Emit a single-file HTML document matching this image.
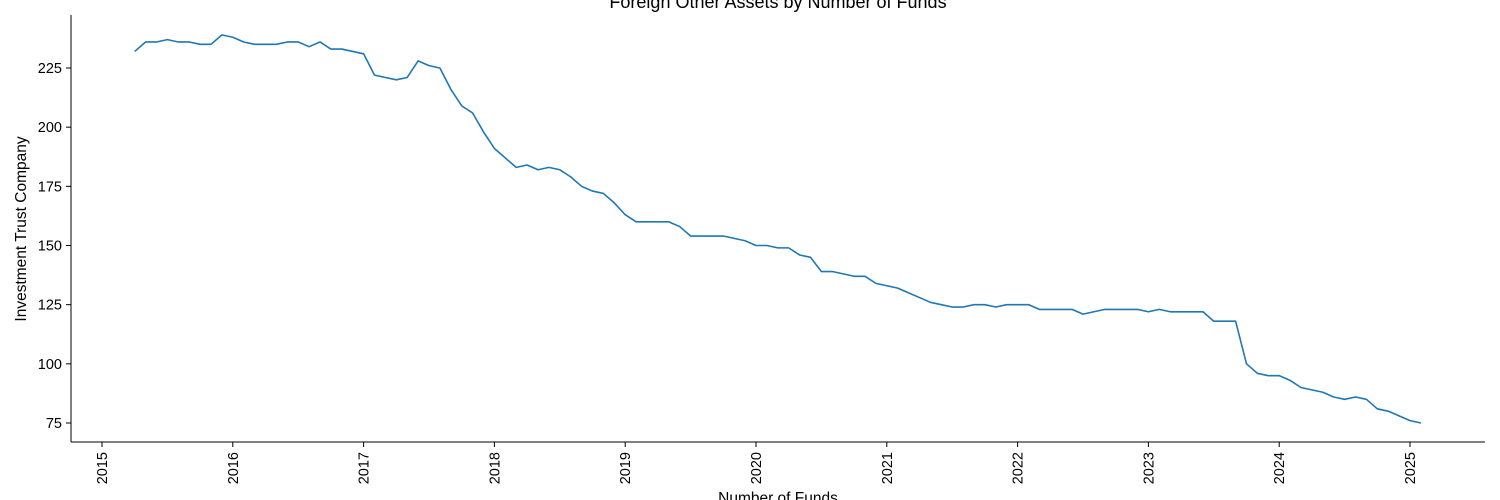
<!DOCTYPE html>
<html><head><meta charset="utf-8"><style>
html,body{margin:0;padding:0;background:#fff}
svg{display:block;font-family:"Liberation Sans","DejaVu Sans",sans-serif}
</style></head><body>
<svg id="chart" width="1500" height="500" viewBox="0 0 1500 500">
<text x="778" y="8" font-size="18" text-anchor="middle">Foreign Other Assets by Number of Funds</text>
<g id="yticks"></g>
<g id="xticks"></g>
<line x1="71" y1="15" x2="71" y2="442" stroke="#000" stroke-width="1"/>
<line x1="71" y1="442" x2="1485" y2="442" stroke="#000" stroke-width="1"/>
<text transform="translate(26,229) rotate(-90)" font-size="15.5" text-anchor="middle">Investment Trust Company</text>
<text x="778" y="503" font-size="15.5" text-anchor="middle">Number of Funds</text>
<path id="series" fill="none" stroke="#1f77b4" stroke-width="1.6" stroke-linejoin="round"/>
</svg>
<script>
const startYear = 2015, startMonth = 3; // April 2015 (0-based month)
const values = [232,236,236,237,236,236,235,235,239,
238,236,235,235,235,236,236,234,236,233,233,232,
231,222,221,220,221,228,226,225,216,209,206,198,
191,187,183,184,182,183,182,179,175,173,172,168,
163,160,160,160,160,158,154,154,154,154,153,152,
150,150,149,149,146,145,139,139,138,137,137,134,
133,132,130,128,126,125,124,124,125,125,124,125,
125,125,123,123,123,123,121,122,123,123,123,123,
122,123,122,122,122,122,118,118,118,100,96,95,
95,93,90,89,88,86,85,86,85,81,80,78,
76,75];
const yTicks = [75,100,125,150,175,200,225];
const xTicks = [2015,2016,2017,2018,2019,2020,2021,2022,2023,2024,2025];

const NS = "http://www.w3.org/2000/svg";
function xs(y){ return 102 + (y - 2015) * 130.8; }
function ys(v){ return 423 - (v - 75) * (355 / 150); }

const yg = document.getElementById('yticks');
yTicks.forEach(t => {
  const l = document.createElementNS(NS,'line');
  l.setAttribute('x1',66); l.setAttribute('x2',71);
  l.setAttribute('y1',ys(t)); l.setAttribute('y2',ys(t));
  l.setAttribute('stroke','#000');
  
  
  yg.appendChild(l);
  const tx = document.createElementNS(NS,'text');
  tx.setAttribute('x',62); tx.setAttribute('y',ys(t)+5);
  tx.setAttribute('font-size','14.5'); tx.setAttribute('text-anchor','end');
  tx.textContent = t;
  
  
  yg.appendChild(tx);
});
const xg = document.getElementById('xticks');
xTicks.forEach(t => {
  const x = xs(t);
  const l = document.createElementNS(NS,'line');
  l.setAttribute('x1',x); l.setAttribute('x2',x);
  l.setAttribute('y1',442); l.setAttribute('y2',447);
  l.setAttribute('stroke','#000');
  
  
  xg.appendChild(l);
  const tx = document.createElementNS(NS,'text');
  tx.setAttribute('transform','translate('+(x+5)+',452) rotate(-90)');
  tx.setAttribute('font-size','14.5'); tx.setAttribute('text-anchor','end');
  tx.textContent = t;
  
  
  xg.appendChild(tx);
});
let d = '';
values.forEach((v,i) => {
  const yr = startYear + (startMonth + i) / 12;
  d += (i ? 'L' : 'M') + xs(yr).toFixed(2) + ',' + ys(v).toFixed(2);
});
document.getElementById('series').setAttribute('d', d);
</script>
</body></html>
